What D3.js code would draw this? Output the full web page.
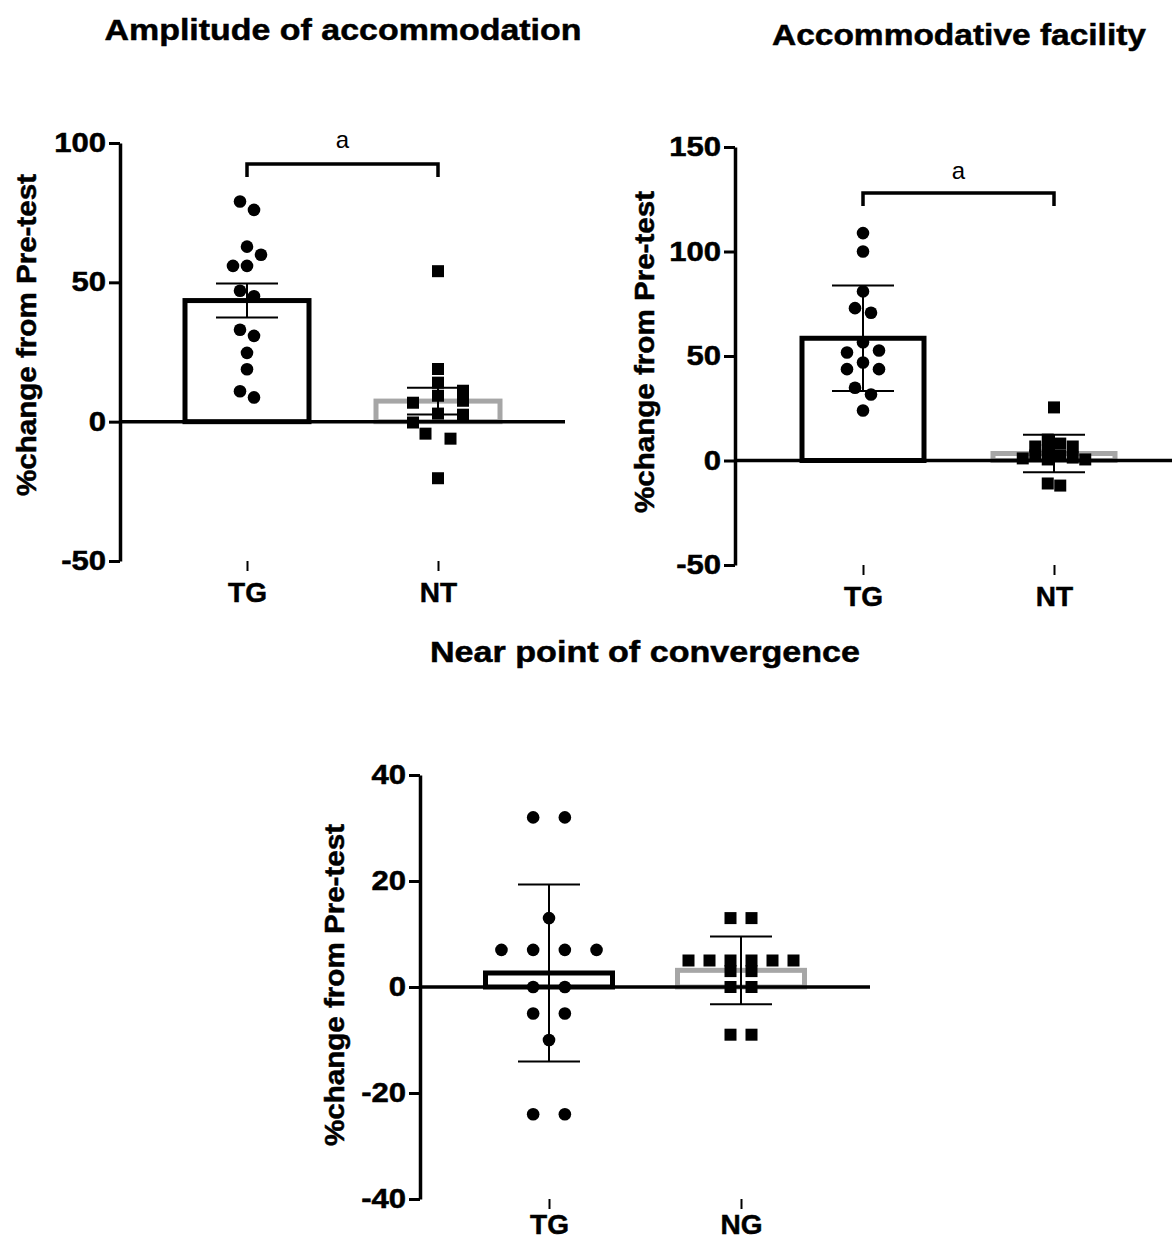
<!DOCTYPE html>
<html>
<head>
<title>% change from pre-test</title>
    <meta charset="utf-8">
    <script type="text/javascript" src="https://d3js.org/d3.v7.min.js"></script>
    <style>
        body {margin:0; background:#fff;}
        text {font-family:"Liberation Sans", Arial, sans-serif;}
    </style>
</head>
<body>
<svg width="1172" height="1243" id="mainsvg"></svg>
<script>

    // values (% change from pre-test, one per subject)
    const ampGroups = ['TG', 'NT'];
    const ampTG = [79, 76, 62.8, 59.9, 55.9, 55.9, 47, 45, 33, 30.8, 24.7, 18.8, 10.9, 8.7];
    const ampNT = [54, 18.9, 14, 11.1, 9.3, 7.5, 6.8, 2.9, 2.5, -0.3, -4.3, -6.1, -20.3];
    const ampTicks = [-50, 0, 50, 100];

    const facGroups = ['TG', 'NT'];
    const facTG = [108.8, 100, 80.9, 72.9, 70.7, 56.6, 52.6, 51.7, 46.9, 43.7, 43.7, 34.8, 31.6, 23.9];
    const facNT = [25.4, 10, 8.1, 6.7, 6.7, 4.8, 2.4, 2.4, 1.4, 1, 0.5, 0.5, -11, -12];
    const facTicks = [-50, 0, 50, 100, 150];

    const npcGroups = ['TG', 'NG'];
    const npcTG = [32, 32, 13, 7, 7, 7, 7, 0, 0, -5, -5, -10, -24, -24];
    const npcNG = [13, 13, 5, 5, 5, 5, 5, 5, 3, 3, 0, 0, -9, -9];
    const npcTicks = [-40, -20, 0, 20, 40];

    const svg = d3.select('#mainsvg');
    const grey = '#a6a6a6';

    const panels = [
        {title:'Amplitude of accommodation', titleX:343, titleY:40, titleLen:477,
         groups:ampGroups, series:[ampTG, ampNT], ticks:ampTicks, err:'sem',
         axisX:120, top:143, bottom:561, lineEnd:565, cx:[247, 438], barW:124,
         labelX:27, labelY:335, sig:92.5, sigY:148, xPad:11,
         spread:[{colW:14, rowH:12}, {colW:25, rowH:10}]},
        {title:'Accommodative facility', titleX:959, titleY:45, titleLen:374,
         groups:facGroups, series:[facTG, facNT], ticks:facTicks, err:'sd',
         axisX:735, top:147, bottom:565, lineEnd:1172, cx:[863, 1054], barW:122,
         labelX:645, labelY:352, sig:128, sigY:179, xPad:11,
         spread:[{colW:16, rowH:12}, {colW:12.5, rowH:8}]},
        {title:'Near point of convergence', titleX:645, titleY:662, titleLen:430,
         groups:npcGroups, series:[npcTG, npcNG], ticks:npcTicks, err:'sd',
         axisX:420, top:775, bottom:1199, lineEnd:870, cx:[549, 741], barW:127,
         labelX:335, labelY:985, sig:null, xPad:5,
         spread:[{colW:31.7, rowH:12}, {colW:21, rowH:10}]}
    ];

    // GraphPad-like column scatter: push colliding points sideways, then centre each run
    function spreadPoints(vals, y, colW, rowH) {
        const pts = vals.map(v => ({v:v, y:y(v), dx:0})).sort((a, b) => a.y - b.y);
        const placed = [];
        pts.forEach(p => {
            for (let k = 0; k < 40; k++) {
                const off = k === 0 ? 0 : (k % 2 ? 1 : -1) * Math.ceil(k / 2) * colW;
                const hit = placed.some(q => Math.abs(q.y - p.y) < rowH && Math.abs(q.dx - off) < colW - 0.01);
                if (!hit) { p.dx = off; break; }
            }
            placed.push(p);
        });
        let run = [pts[0]];
        const flush = () => {
            const ext = d3.extent(run, d => d.dx);
            const c = (ext[0] + ext[1]) / 2;
            run.forEach(d => d.dx -= c);
        };
        for (let i = 1; i < pts.length; i++) {
            if (pts[i].y - pts[i - 1].y < rowH) run.push(pts[i]);
            else { flush(); run = [pts[i]]; }
        }
        flush();
        return pts;
    }

    function stretch(sel, f) {
        sel.each(function() {
            const len = this.getComputedTextLength();
            d3.select(this).attr('textLength', len * f).attr('lengthAdjust', 'spacingAndGlyphs');
        });
    }

    // GraphPad prints plain hyphens for negatives
    const fmt = d => String(d);

    panels.forEach(p => {
        const g = svg.append('g');
        const ticks = p.ticks;
        const yScale = d3.scaleLinear()
            .domain([ticks[0], ticks[ticks.length - 1]])
            .range([p.bottom, p.top]);
        const xScale = d3.scalePoint()
            .domain(p.groups)
            .range(p.cx);

        // title
        g.append('text').text(p.title)
            .attr('x', p.titleX).attr('y', p.titleY)
            .attr('text-anchor', 'middle')
            .attr('font-size', 30).attr('font-weight', 'bold')
            .attr('stroke', '#000').attr('stroke-width', 0.5)
            .attr('textLength', p.titleLen).attr('lengthAdjust', 'spacingAndGlyphs');

        // y axis
        const yAxis = d3.axisLeft(yScale).tickValues(ticks).tickFormat(fmt)
            .tickSize(11).tickSizeOuter(0).tickPadding(3);
        const ya = g.append('g').attr('transform', `translate(${p.axisX},0)`).call(yAxis);
        ya.select('.domain').attr('stroke-width', 3.5);
        ya.selectAll('.tick line').attr('stroke-width', 3);
        ya.selectAll('.tick text').attr('font-size', 27).attr('font-weight', 'bold')
            .attr('font-family', '"Liberation Sans", Arial, sans-serif').attr('fill', '#000')
            .attr('stroke', '#000').attr('stroke-width', 0.5);
        stretch(ya.selectAll('.tick text'), 1.15);

        // x axis (category labels at the bottom)
        const xAxis = d3.axisBottom(xScale).tickSize(10).tickPadding(p.xPad);
        const xa = g.append('g').attr('transform', `translate(0,${p.bottom})`).call(xAxis);
        xa.select('.domain').remove();
        xa.selectAll('.tick line').attr('stroke-width', 2);
        xa.selectAll('.tick text').attr('font-size', 28).attr('font-weight', 'bold')
            .attr('font-family', '"Liberation Sans", Arial, sans-serif').attr('fill', '#000')
            .attr('stroke', '#000').attr('stroke-width', 0.5);

        // y axis title
        g.append('text').text('%change from Pre-test')
            .attr('transform', `translate(${p.labelX},${p.labelY}) rotate(-90)`)
            .attr('text-anchor', 'middle').attr('dominant-baseline', 'central')
            .attr('font-size', 27).attr('font-weight', 'bold')
            .attr('stroke', '#000').attr('stroke-width', 0.5)
            .attr('textLength', 322).attr('lengthAdjust', 'spacingAndGlyphs');

        const stats = p.series.map(v => {
            const m = d3.mean(v);
            const sd = d3.deviation(v);
            return {mean:m, err: p.err === 'sem' ? sd / Math.sqrt(v.length) : sd};
        });

        // bars
        p.groups.forEach((name, i) => {
            const s = stats[i];
            g.append('rect')
                .attr('x', xScale(name) - p.barW / 2)
                .attr('y', Math.min(yScale(s.mean), yScale(0)))
                .attr('width', p.barW)
                .attr('height', Math.abs(yScale(0) - yScale(s.mean)))
                .attr('fill', 'white')
                .attr('stroke', i === 0 ? '#000' : grey)
                .attr('stroke-width', 5);
        });

        // zero line
        g.append('line')
            .attr('x1', p.axisX).attr('x2', p.lineEnd)
            .attr('y1', yScale(0)).attr('y2', yScale(0))
            .attr('stroke', '#000').attr('stroke-width', 3.5);

        // points
        p.groups.forEach((name, i) => {
            const pts = spreadPoints(p.series[i], yScale, p.spread[i].colW, p.spread[i].rowH);
            const cx = xScale(name);
            if (i === 0) {
                g.selectAll(null).data(pts).join('circle')
                    .attr('cx', d => cx + d.dx).attr('cy', d => d.y)
                    .attr('r', 6.3).attr('fill', '#000');
            } else {
                g.selectAll(null).data(pts).join('rect')
                    .attr('x', d => cx + d.dx - 6).attr('y', d => d.y - 6)
                    .attr('width', 12).attr('height', 12).attr('fill', '#000');
            }
        });

        // error bars
        p.groups.forEach((name, i) => {
            const s = stats[i];
            const cx = xScale(name);
            const hi = yScale(s.mean + s.err), lo = yScale(s.mean - s.err);
            const eg = g.append('g').attr('stroke', '#000').attr('stroke-width', 2);
            eg.append('line').attr('x1', cx).attr('x2', cx).attr('y1', hi).attr('y2', lo);
            eg.append('line').attr('x1', cx - 31).attr('x2', cx + 31).attr('y1', hi).attr('y2', hi);
            eg.append('line').attr('x1', cx - 31).attr('x2', cx + 31).attr('y1', lo).attr('y2', lo);
        });

        // significance bracket
        if (p.sig !== null) {
            const by = yScale(p.sig);
            const x1 = xScale(p.groups[0]), x2 = xScale(p.groups[1]);
            g.append('path')
                .attr('d', `M${x1},${by + 13}V${by}H${x2}V${by + 13}`)
                .attr('fill', 'none').attr('stroke', '#000').attr('stroke-width', 3.5);
            g.append('text').text('a')
                .attr('x', (x1 + x2) / 2).attr('y', p.sigY)
                .attr('text-anchor', 'middle').attr('font-size', 24);
        }
    });

</script>
</body>
</html>
